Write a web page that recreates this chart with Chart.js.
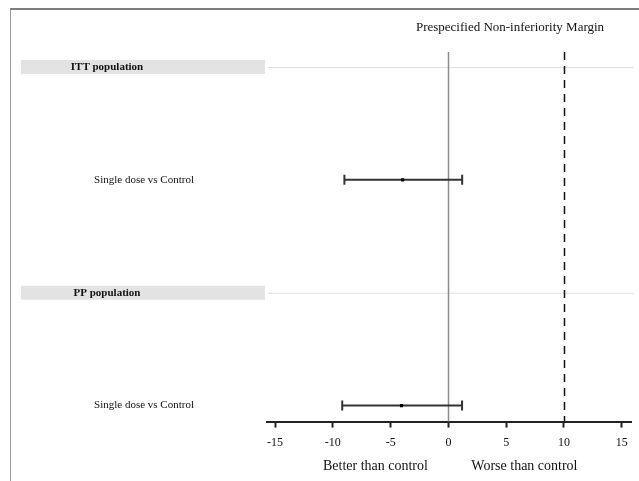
<!DOCTYPE html>
<html>
<head>
<meta charset="utf-8">
<script src="https://cdn.jsdelivr.net/npm/chart.js@4/dist/chart.umd.min.js"></script>
<style>
    html, body { margin: 0; padding: 0; background: #fff; }
    #wrap { position: relative; width: 639px; height: 481px; overflow: hidden; }
    #frame { position: absolute; left: 10px; top: 8px; width: 640px; height: 480px;
             border-top: 2px solid #7d7d7d; border-left: 1px solid #9a9a9a; }
    #myChart { position: absolute; left: 0; top: 0; }
</style>
</head>
<body>
<div id="wrap">
    <div id="frame"></div>
    <canvas id="myChart" width="639" height="481"></canvas>
</div>
<script>
// rows of the forest plot, top to bottom
var rowLabels = ['ITT population', 'Single dose vs Control', 'PP population', 'Single dose vs Control'];
var rowIsHeader = [true, false, true, false];

// difference vs control with 95% CI
var estRows = [1, 3];
var estimates = [-3.96, -4.06];
var lowerCI = [-9.0, -9.19];
var upperCI = [1.19, 1.18];

var xTicks = [-15, -10, -5, 0, 5, 10, 15];
var nonInfMargin = 10;

var serif = '"Liberation Serif", "Times New Roman", serif';

var datasets = [];
for (var i = 0; i < estimates.length; i++) {
    // CI whisker with vertical caps at both ends
    datasets.push({
        type: 'line',
        order: 2,
        data: [{x: lowerCI[i], y: estRows[i]}, {x: upperCI[i], y: estRows[i]}],
        borderColor: '#333',
        borderWidth: 2,
        pointStyle: 'line',
        rotation: 90,
        pointRadius: 5,
        pointBorderWidth: 2,
        pointBorderColor: '#333',
        fill: false
    });
}
// point estimates on top of the whiskers
datasets.push({
    type: 'scatter',
    order: 1,
    data: estimates.map(function (v, i) { return {x: v, y: estRows[i]}; }),
    pointStyle: 'rect',
    pointRadius: 2.2,
    backgroundColor: '#000',
    borderColor: '#000',
    borderWidth: 0
});

// bands, labels and reference lines
var forestDecor = {
    id: 'forestDecor',
    beforeDatasetsDraw: function (chart) {
        var ctx = chart.ctx;
        var xs = chart.scales.x;
        var ys = chart.scales.y;
        var area = chart.chartArea;
        ctx.save();

        rowLabels.forEach(function (label, r) {
            var y = ys.getPixelForValue(r);
            if (rowIsHeader[r]) {
                ctx.fillStyle = '#e3e3e3';
                ctx.fillRect(21, y - 7, 244, 14);
                ctx.strokeStyle = '#e0e0e0';
                ctx.lineWidth = 1;
                ctx.beginPath();
                ctx.moveTo(area.left + 1, y + 0.5);
                ctx.lineTo(area.right + 3, y + 0.5);
                ctx.stroke();
                ctx.font = 'bold 11px ' + serif;
            } else {
                ctx.font = '11px ' + serif;
            }
            ctx.fillStyle = '#111';
            ctx.textAlign = 'center';
            ctx.textBaseline = 'middle';
            ctx.fillText(label, rowIsHeader[r] ? 107 : 144, y);
        });

        // line of no difference
        var x0 = Math.round(xs.getPixelForValue(0)) + 0.5;
        ctx.strokeStyle = '#8c8c8c';
        ctx.lineWidth = 1.5;
        ctx.beginPath();
        ctx.moveTo(x0, area.top);
        ctx.lineTo(x0, area.bottom);
        ctx.stroke();

        // non-inferiority margin
        var xm = Math.round(xs.getPixelForValue(nonInfMargin)) + 0.5;
        ctx.strokeStyle = '#111';
        ctx.lineWidth = 1.5;
        ctx.setLineDash([8, 6]);
        ctx.beginPath();
        ctx.moveTo(xm, area.top);
        ctx.lineTo(xm, area.bottom);
        ctx.stroke();
        ctx.setLineDash([]);

        ctx.restore();
    },
    afterDraw: function (chart) {
        var ctx = chart.ctx;
        var xs = chart.scales.x;
        ctx.save();
        ctx.fillStyle = '#111';
        ctx.textAlign = 'center';
        ctx.textBaseline = 'middle';
        ctx.font = '13px ' + serif;
        ctx.fillText('Prespecified Non-inferiority Margin', 510, 28);
        ctx.font = '14px ' + serif;
        var x0 = xs.getPixelForValue(0);
        ctx.fillText('Better than control', x0 - 73, 466);
        ctx.fillText('Worse than control', x0 + 76, 466);
        ctx.restore();
    }
};

new Chart(document.getElementById('myChart'), {
    type: 'scatter',
    data: { datasets: datasets },
    options: {
        responsive: false,
        animation: false,
        layout: { padding: { left: 267, right: 8, top: 52, bottom: 23 } },
        plugins: {
            legend: { display: false },
            tooltip: { enabled: false }
        },
        scales: {
            x: {
                type: 'linear',
                min: -15.7,
                max: 15.8,
                afterBuildTicks: function (axis) {
                    axis.ticks = xTicks.map(function (v) { return {value: v}; });
                },
                grid: {
                    drawOnChartArea: false,
                    drawTicks: true,
                    tickLength: 6,
                    tickWidth: 2,
                    color: '#222'
                },
                border: { display: true, color: '#222', width: 2 },
                ticks: {
                    padding: 8,
                    color: '#111',
                    font: { family: serif, size: 12 },
                    maxRotation: 0
                }
            },
            y: {
                type: 'linear',
                display: false,
                reverse: true,
                min: -0.133,
                max: 3.142
            }
        }
    },
    plugins: [forestDecor]
});
</script>
</body>
</html>
